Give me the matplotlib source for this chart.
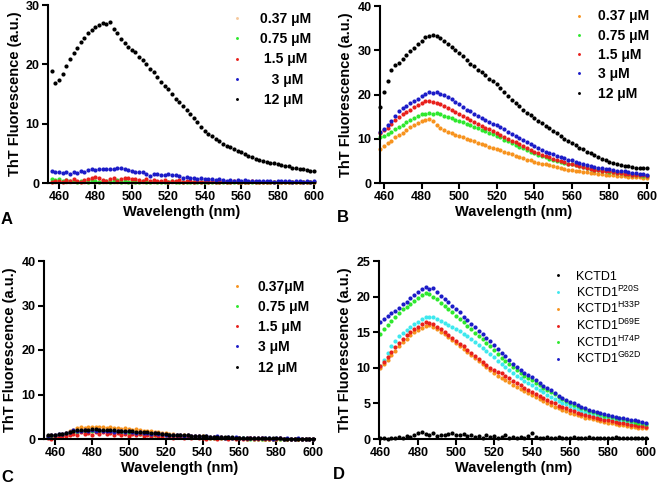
import numpy as np
import matplotlib
matplotlib.use("Agg")
import matplotlib.pyplot as plt

plt.rcParams['font.family'] = ['Liberation Sans', 'DejaVu Sans']
plt.rcParams['font.weight'] = 'bold'
plt.rcParams['axes.labelweight'] = 'bold'
plt.rcParams['mathtext.default'] = 'regular'

# ---------------- data (2 nm steps) ----------------
wl_a = np.arange(456, 601, 2)   # panels A and C
wl_b = np.arange(458, 601, 2)   # panel B
wl_d = np.arange(460, 601, 2)   # panel D

conc_labels = ["0.37 \u03bcM", "0.75 \u03bcM", "1.5 \u03bcM", "3 \u03bcM", "12 \u03bcM"]
conc_labels_a = ["0.37 \u03bcM", "0.75 \u03bcM", " 1.5 \u03bcM", "   3 \u03bcM", " 12 \u03bcM"]
conc_labels_c = ["0.37\u03bcM", "0.75 \u03bcM", "1.5 \u03bcM", "3 \u03bcM", "12 \u03bcM"]

# panel A
a_037 = [0.2, 0.1, 0.3, 0.2, 0.1, 0.2, 0.3, 0.1, 0.2, 0.2,
         0.1, 0.3, 0.2, 0.1, 0.2, 0.1, 0.2, 0.1, 0.2, 0.1,
         0.2, 0.1, 0.1, 0.2, 0.1, 0.2, 0.1, 0.1, 0.2, 0.1,
         0.1, 0.2, 0.1, 0.1, 0.1, 0.2, 0.1, 0.1, 0.1, 0.1,
         0.2, 0.1, 0.1, 0.1, 0.1, 0.1, 0.2, 0.1, 0.1, 0.1,
         0.1, 0.1, 0.1, 0.1, 0.2, 0.1, 0.1, 0.1, 0.1, 0.1,
         0.1, 0.1, 0.1, 0.1, 0.1, 0.1, 0.1, 0.1, 0.1, 0.1,
         0.1, 0.1, 0.1]
a_075 = [0.6, 0.5, 0.7, 0.4, 0.5, 0.3, 0.4, 0.2, 0.3, 0.4,
         0.2, 0.5, 0.3, 0.2, 0.4, 0.3, 0.1, 0.3, 0.5, 0.2,
         0.3, 0.2, 0.4, 0.1, 0.2, 0.3, 0.1, 0.2, 0.3, 0.1,
         0.2, 0.1, 0.2, 0.3, 0.1, 0.2, 0.1, 0.2, 0.1, 0.2,
         0.1, 0.2, 0.1, 0.1, 0.2, 0.1, 0.1, 0.2, 0.1, 0.1,
         0.2, 0.1, 0.1, 0.2, 0.1, 0.1, 0.1, 0.2, 0.1, 0.1,
         0.1, 0.2, 0.1, 0.1, 0.1, 0.2, 0.1, 0.1, 0.1, 0.2,
         0.1, 0.1, 0.1]
a_15 = [0.2, 0.4, 0.3, 0.1, 0.5, 0.3, 0.6, 0.4, 0.2, 0.5,
        0.7, 0.9, 1.0, 0.8, 0.5, 0.3, 0.6, 0.8, 0.4, 0.7,
        0.9, 0.8, 0.6, 0.7, 0.5, 0.4, 0.6, 0.3, 0.5, 0.4,
        0.3, 0.5, 0.2, 0.4, 0.3, 0.5, 0.2, 0.3, 0.4, 0.2,
        0.3, 0.1, 0.3, 0.2, 0.4, 0.1, 0.2, 0.3, 0.1, 0.2,
        0.3, 0.1, 0.2, 0.2, 0.1, 0.3, 0.1, 0.2, 0.1, 0.2,
        0.1, 0.2, 0.1, 0.1, 0.2, 0.1, 0.1, 0.2, 0.1, 0.1,
        0.1, 0.2, 0.1]
a_3 = [2.1, 1.9, 1.8, 1.7, 1.9, 1.6, 1.8, 1.7, 2.0, 1.9,
       2.2, 2.3, 2.2, 2.3, 2.4, 2.3, 2.4, 2.4, 2.6, 2.5,
       2.3, 2.2, 2.0, 1.9, 1.8, 1.9, 1.6, 1.1, 1.6, 1.5,
       1.4, 1.3, 1.5, 1.4, 1.3, 1.2, 0.9, 1.0, 0.8, 0.9,
       0.7, 0.8, 0.7, 0.6, 0.6, 0.5, 0.6, 0.5, 0.4, 0.5,
       0.4, 0.5, 0.3, 0.5, 0.4, 0.3, 0.4, 0.4, 0.3, 0.4,
       0.3, 0.2, 0.3, 0.4, 0.3, 0.3, 0.2, 0.3, 0.3, 0.2,
       0.3, 0.2, 0.3]
a_12 = [18.8, 16.8, 17.3, 18.4, 19.8, 20.9, 21.9, 22.8, 23.8, 24.5,
        25.2, 25.8, 26.3, 26.6, 26.9, 26.8, 27.2, 26.0, 25.2, 24.3,
        23.6, 23.0, 22.5, 22.1, 21.3, 20.7, 20.0, 19.2, 18.7, 17.9,
        17.0, 16.3, 15.8, 15.0, 14.2, 13.6, 12.9, 12.3, 11.6, 10.9,
        10.2, 9.5, 8.8, 8.3, 7.9, 7.4, 7.0, 6.6, 6.3, 6.0,
        5.7, 5.4, 5.2, 4.9, 4.6, 4.4, 4.1, 3.9, 3.7, 3.6,
        3.4, 3.3, 3.2, 3.0, 2.9, 2.8, 2.6, 2.5, 2.4, 2.3,
        2.2, 2.1, 2.0]

# panel B
b_037 = [7.6, 8.3, 9.0, 9.6, 10.3, 10.9, 11.4, 12.0, 12.6, 13.1,
         13.6, 13.9, 14.2, 14.4, 14.1, 13.0, 12.4, 12.0, 11.6, 11.2,
         10.9, 10.6, 10.3, 10.0, 9.7, 9.4, 9.1, 8.8, 8.5, 8.2,
         7.9, 7.7, 7.4, 7.1, 6.8, 6.5, 6.2, 5.9, 5.6, 5.3,
         5.1, 4.8, 4.6, 4.4, 4.2, 4.0, 3.8, 3.6, 3.4, 3.2,
         3.0, 2.9, 2.8, 2.6, 2.5, 2.4, 2.3, 2.2, 2.1, 2.0,
         1.9, 1.8, 1.7, 1.6, 1.5, 1.5, 1.4, 1.4, 1.3, 1.3,
         1.2, 1.2]
b_075 = [10.3, 10.6, 11.0, 11.5, 12.2, 12.7, 13.2, 13.8, 14.3, 14.7,
         15.1, 15.5, 15.7, 15.9, 15.6, 15.9, 15.5, 15.2, 14.9, 14.6,
         14.3, 14.1, 13.8, 13.4, 13.1, 12.7, 12.4, 12.0, 11.7, 11.3,
         11.0, 10.7, 10.3, 9.8, 9.4, 9.0, 8.6, 8.2, 7.8, 7.4,
         7.0, 6.7, 6.4, 6.1, 5.8, 5.5, 5.3, 5.0, 4.8, 4.6,
         4.4, 4.2, 4.0, 3.8, 3.6, 3.4, 3.2, 3.0, 2.9, 2.7,
         2.6, 2.5, 2.4, 2.3, 2.2, 2.1, 2.0, 1.9, 1.8, 1.7,
         1.6, 1.5]
b_15 = [11.4, 11.9, 12.5, 13.3, 14.2, 14.9, 15.5, 16.0, 16.6, 17.1,
        17.6, 18.1, 18.6, 18.5, 18.2, 18.1, 17.8, 17.3, 17.0, 16.5,
        16.1, 15.7, 15.2, 14.7, 14.3, 13.8, 13.4, 12.9, 12.5, 12.1,
        11.7, 11.3, 10.9, 10.5, 10.0, 9.6, 9.2, 8.8, 8.3, 7.9,
        7.5, 7.1, 6.8, 6.4, 6.1, 5.8, 5.5, 5.2, 4.9, 4.7,
        4.4, 4.2, 4.0, 3.8, 3.6, 3.4, 3.2, 3.0, 2.9, 2.8,
        2.7, 2.6, 2.4, 2.3, 2.2, 2.1, 2.0, 1.9, 1.8, 1.7,
        1.7, 1.6]
b_3 = [11.6, 12.2, 13.0, 14.1, 15.2, 16.2, 16.9, 17.5, 18.0, 18.5,
       19.0, 19.6, 20.1, 20.5, 20.4, 20.5, 20.2, 19.8, 19.4, 18.9,
       18.3, 17.8, 17.2, 16.6, 16.2, 15.6, 15.1, 14.7, 14.2, 13.8,
       13.3, 13.0, 12.6, 12.1, 11.6, 11.1, 10.7, 10.2, 9.7, 9.2,
       8.8, 8.4, 8.0, 7.5, 7.1, 6.8, 6.5, 6.2, 5.9, 5.6,
       5.3, 5.1, 4.8, 4.5, 4.3, 4.1, 3.9, 3.7, 3.5, 3.4,
       3.2, 3.1, 2.9, 2.8, 2.7, 2.6, 2.5, 2.3, 2.2, 2.1,
       2.0, 1.9]
b_12 = [17.2, 20.5, 23.0, 25.6, 26.6, 27.1, 28.0, 29.0, 29.8, 30.6,
        31.4, 32.2, 32.9, 33.3, 33.4, 33.2, 32.8, 32.2, 31.4, 30.7,
        30.0, 29.4, 28.7, 27.7, 27.0, 26.4, 25.6, 25.0, 24.4, 23.6,
        23.0, 22.3, 21.5, 20.6, 19.6, 18.8, 18.0, 17.3, 16.6, 15.9,
        15.3, 14.7, 14.1, 13.5, 12.9, 12.4, 11.8, 11.2, 10.6, 10.0,
        9.5, 9.0, 8.5, 8.0, 7.6, 7.1, 6.7, 6.3, 5.9, 5.5,
        5.1, 4.8, 4.6, 4.3, 4.1, 3.9, 3.8, 3.6, 3.5, 3.4,
        3.3, 3.3]

# panel C
c_037 = [0.7, 0.8, 0.9, 1.0, 1.2, 1.4, 1.7, 2.0, 2.4, 2.6,
         2.5, 2.7, 2.6, 2.8, 2.6, 2.7, 2.5, 2.6, 2.4, 2.5,
         2.3, 2.4, 2.2, 2.1, 2.2, 2.0, 1.9, 1.8, 1.7, 1.6,
         1.5, 1.4, 1.3, 1.2, 1.1, 1.0, 0.9, 0.9, 0.8, 0.7,
         0.7, 0.6, 0.6, 0.5, 0.5, 0.4, 0.4, 0.4, 0.3, 0.3,
         0.3, 0.3, 0.2, 0.2, 0.2, 0.2, 0.2, 0.2, 0.1, 0.1,
         0.1, 0.1, 0.1, 0.1, 0.1, 0.1, 0.1, 0.1, 0.1, 0.1,
         0.1, 0.1, 0.1]
c_075 = [0.5, 0.6, 0.7, 0.8, 1.0, 1.1, 1.3, 1.5, 1.6, 1.7,
         1.7, 1.8, 1.8, 1.8, 1.7, 1.8, 1.7, 1.7, 1.6, 1.6,
         1.5, 1.5, 1.4, 1.4, 1.3, 1.2, 1.2, 1.1, 1.0, 1.0,
         0.9, 0.9, 0.8, 0.8, 0.7, 0.7, 0.6, 0.6, 0.5, 0.5,
         0.5, 0.4, 0.4, 0.4, 0.3, 0.3, 0.3, 0.3, 0.2, 0.2,
         0.2, 0.2, 0.2, 0.2, 0.1, 0.1, 0.1, 0.1, 0.1, 0.1,
         0.1, 0.1, 0.1, 0.1, 0.1, 0.1, 0.1, 0.1, 0.1, 0.1,
         0.1, 0.1, 0.1]
c_15 = [0.3, 0.1, 0.5, 0.4, 0.7, 0.6, 0.9, 1.2, 1.0, 1.5,
        1.1, 1.4, 1.0, 1.6, 1.2, 1.5, 1.1, 1.3, 0.9, 1.4,
        1.0, 1.2, 0.7, 1.1, 0.8, 1.2, 0.6, 1.0, 0.5, 0.9,
        0.7, 0.4, 0.8, 0.5, 0.3, 0.6, 0.4, 0.2, 0.5, 0.3,
        0.4, 0.2, 0.3, 0.1, 0.3, 0.2, 0.1, 0.2, 0.3, 0.1,
        0.2, 0.1, 0.2, 0.1, 0.1, 0.2, 0.1, 0.1, 0.2, 0.1,
        0.1, 0.1, 0.1, 0.2, 0.1, 0.1, 0.1, 0.1, 0.1, 0.1,
        0.1, 0.1, 0.1]
c_3 = [0.7, 0.9, 0.8, 1.1, 1.2, 1.3, 1.6, 2.0, 1.9, 1.8,
       2.0, 1.7, 2.1, 1.8, 2.0, 1.7, 1.9, 1.8, 1.6, 1.9,
       1.7, 1.5, 1.8, 1.6, 1.4, 1.5, 1.3, 1.4, 1.2, 1.3,
       1.1, 1.2, 1.0, 0.9, 1.0, 0.8, 0.8, 0.7, 0.8, 0.6,
       0.6, 0.7, 0.5, 0.6, 0.4, 0.5, 0.6, 0.4, 0.3, 0.4,
       0.3, 0.4, 0.3, 0.2, 0.3, 0.3, 0.2, 0.2, 0.3, 0.2,
       0.2, 0.1, 0.2, 0.2, 0.1, 0.2, 0.1, 0.1, 0.2, 0.1,
       0.1, 0.1, 0.1]
c_12 = [0.8, 0.9, 1.0, 1.1, 1.2, 1.4, 1.6, 1.8, 2.0, 2.0,
        2.1, 2.1, 2.2, 2.2, 2.1, 2.1, 2.1, 2.0, 2.0, 1.9,
        1.9, 1.8, 1.8, 1.7, 1.6, 1.6, 1.5, 1.5, 1.4, 1.3,
        1.3, 1.2, 1.1, 1.0, 1.0, 0.9, 0.9, 0.8, 0.8, 0.7,
        0.7, 0.7, 0.6, 0.6, 0.5, 0.5, 0.5, 0.4, 0.4, 0.4,
        0.4, 0.3, 0.3, 0.3, 0.3, 0.3, 0.2, 0.2, 0.2, 0.2,
        0.2, 0.2, 0.2, 0.2, 0.1, 0.1, 0.1, 0.1, 0.1, 0.1,
        0.1, 0.1, 0.1]

# panel D
mut_labels = ["KCTD1", "KCTD1$^{P20S}$", "KCTD1$^{H33P}$",
              "KCTD1$^{D69E}$", "KCTD1$^{H74P}$", "KCTD1$^{G62D}$"]
d_wt = [0.1, 0.2, 0.0, 0.2, 0.1, 0.3, 0.2, 0.4, 0.3, 0.6,
        0.9, 1.0, 0.7, 0.5, 0.8, 0.4, 0.6, 0.5, 0.7, 0.9,
        0.6, 0.5, 0.7, 0.4, 0.5, 0.3, 0.4, 0.2, 0.5, 0.3,
        0.4, 0.2, 0.3, 0.5, 0.2, 0.3, 0.1, 0.3, 0.2, 0.4,
        0.9, 0.3, 0.2, 0.1, 0.3, 0.2, 0.1, 0.3, 0.2, 0.1,
        0.2, 0.3, 0.1, 0.2, 0.1, 0.3, 0.2, 0.1, 0.2, 0.1,
        0.2, 0.1, 0.3, 0.1, 0.2, 0.1, 0.2, 0.1, 0.1, 0.2,
        0.1]
d_p20s = [10.2, 11.1, 12.1, 13.0, 13.8, 14.5, 14.9, 15.3, 15.7, 16.1,
          16.5, 16.8, 17.1, 17.2, 17.1, 16.9, 16.6, 16.3, 16.0, 15.7,
          15.4, 15.1, 14.8, 14.4, 14.0, 13.6, 13.2, 12.8, 12.4, 12.0,
          11.5, 11.0, 10.6, 10.1, 9.7, 9.3, 8.9, 8.6, 8.2, 7.9,
          7.6, 7.2, 6.9, 6.6, 6.2, 5.9, 5.6, 5.4, 5.1, 4.9,
          4.6, 4.4, 4.2, 4.0, 3.8, 3.6, 3.5, 3.3, 3.2, 3.0,
          2.9, 2.8, 2.7, 2.6, 2.5, 2.4, 2.3, 2.2, 2.1, 2.0,
          2.0]
d_h33p = [10.0, 10.5, 11.1, 11.8, 12.4, 13.0, 13.6, 14.1, 14.6, 15.0,
          15.3, 15.6, 15.9, 16.0, 15.7, 15.4, 15.0, 14.7, 14.3, 13.9,
          13.5, 13.1, 12.7, 12.2, 11.8, 11.4, 10.9, 10.5, 10.1, 9.7,
          9.3, 8.9, 8.6, 8.3, 8.0, 7.6, 7.3, 7.0, 6.7, 6.4,
          6.2, 5.9, 5.6, 5.3, 5.0, 4.8, 4.5, 4.3, 4.1, 3.9,
          3.7, 3.5, 3.4, 3.2, 3.0, 2.9, 2.8, 2.6, 2.5, 2.4,
          2.3, 2.2, 2.1, 2.0, 1.9, 1.8, 1.7, 1.7, 1.6, 1.5,
          1.5]
d_d69e = [10.2, 10.8, 11.5, 12.2, 12.9, 13.5, 14.0, 14.6, 15.0, 15.5,
          15.8, 16.1, 16.5, 16.3, 16.1, 15.8, 15.4, 15.0, 14.6, 14.2,
          13.8, 13.4, 13.0, 12.5, 12.1, 11.6, 11.2, 10.8, 10.4, 10.0,
          9.7, 9.4, 9.2, 8.9, 8.5, 8.2, 7.9, 7.6, 7.2, 6.9,
          6.6, 6.3, 6.0, 5.7, 5.5, 5.2, 5.0, 4.7, 4.5, 4.3,
          4.1, 3.9, 3.7, 3.5, 3.4, 3.2, 3.1, 2.9, 2.8, 2.7,
          2.6, 2.5, 2.4, 2.3, 2.2, 2.1, 2.0, 1.9, 1.8, 1.8,
          1.7]
d_h74p = [14.8, 15.4, 16.0, 16.6, 17.2, 17.7, 18.2, 18.6, 19.0, 19.4,
          19.8, 20.2, 20.5, 20.3, 20.0, 19.6, 19.1, 18.7, 18.2, 17.8,
          17.3, 16.9, 16.4, 15.9, 15.4, 14.9, 14.5, 14.0, 13.5, 13.0,
          12.5, 11.9, 11.4, 11.0, 10.5, 10.1, 9.7, 9.3, 8.9, 8.6,
          8.3, 7.9, 7.6, 7.2, 6.9, 6.6, 6.3, 5.9, 5.6, 5.3,
          5.1, 4.8, 4.6, 4.4, 4.2, 4.0, 3.8, 3.7, 3.5, 3.3,
          3.2, 3.1, 3.0, 2.9, 2.8, 2.7, 2.5, 2.4, 2.3, 2.2,
          2.1]
d_g62d = [16.4, 16.9, 17.3, 17.7, 18.0, 18.4, 18.9, 19.3, 19.8, 20.2,
          20.6, 21.1, 21.3, 21.0, 21.2, 20.7, 20.1, 19.6, 19.2, 18.7,
          18.3, 17.8, 17.2, 16.7, 16.2, 15.7, 15.2, 14.7, 14.2, 13.8,
          13.2, 12.6, 12.1, 11.6, 11.1, 10.6, 10.1, 9.7, 9.3, 9.0,
          8.7, 8.3, 7.9, 7.5, 7.2, 6.9, 6.5, 6.1, 5.8, 5.5,
          5.2, 5.0, 4.8, 4.5, 4.3, 4.1, 4.0, 3.8, 3.6, 3.5,
          3.4, 3.3, 3.1, 3.0, 2.9, 2.8, 2.7, 2.6, 2.5, 2.4,
          2.3]

ORANGE = '#f7931e'
PEACH = '#f5c89c'
GREEN = '#2ee82e'
RED = '#e8201c'
BLUE = '#1c1cc8'
CYAN = '#3ee8ee'
BLACK = '#000000'


def style_axes(ax, xlim, ylim, yticks):
    ax.set_xlim(*xlim)
    ax.set_ylim(*ylim)
    ax.set_xticks(np.arange(460, 601, 20))
    ax.set_yticks(yticks)
    for s in ['top', 'right']:
        ax.spines[s].set_visible(False)
    for s in ['left', 'bottom']:
        ax.spines[s].set_linewidth(1.5)
    ax.tick_params(width=1.5, length=4, labelsize=9, pad=2)
    for lab in ax.get_xticklabels() + ax.get_yticklabels():
        lab.set_fontweight('bold')
    ax.set_xlabel('Wavelength (nm)', fontsize=10.5, labelpad=1)
    ax.set_ylabel('ThT Fluorescence (a.u.)', fontsize=10.5, labelpad=3)


def draw_series(ax, x, series, colors, labels):
    handles = []
    for y, c, lab in zip(series, colors, labels):
        h, = ax.plot(x, y, 'o', ms=3.0, mew=0, color=c, label=lab, clip_on=False)
        handles.append(h)
    return handles


fig = plt.figure(figsize=(6.58, 4.87), dpi=100)
W, H = 658.0, 487.0

def px_axes(l, t, r, b):
    return fig.add_axes([l / W, 1 - b / H, (r - l) / W, (b - t) / H])

axA = px_axes(48, 5, 315, 183)
axB = px_axes(380, 6, 648, 183)
axC = px_axes(44, 261, 315, 439)
axD = px_axes(379, 261, 648, 439)

# A
hA = draw_series(axA, wl_a, [a_037, a_075, a_15, a_3, a_12],
                 [PEACH, GREEN, RED, BLUE, BLACK], conc_labels_a)
style_axes(axA, (454, 600.5), (0, 30), [0, 10, 20, 30])
axA.legend(handles=hA, loc='upper left', bbox_to_anchor=(0.655, 1.0), frameon=False,
           handlelength=1.0, handletextpad=1.2, labelspacing=0.45,
           borderpad=0, markerscale=0.7, prop={'weight': 'bold', 'size': 10})

# B
hB = draw_series(axB, wl_b, [b_037, b_075, b_15, b_3, b_12],
                 [ORANGE, GREEN, RED, BLUE, BLACK], conc_labels)
style_axes(axB, (457.9, 600.5), (0, 40), [0, 10, 20, 30, 40])
axB.legend(handles=hB, loc='upper left', bbox_to_anchor=(0.69, 1.02), frameon=False,
           handlelength=1.0, handletextpad=0.9, labelspacing=0.38,
           borderpad=0, markerscale=0.7, prop={'weight': 'bold', 'size': 10})

# C
hC = draw_series(axC, wl_a, [c_037, c_075, c_15, c_3, c_12],
                 [ORANGE, GREEN, RED, BLUE, BLACK], conc_labels_c)
style_axes(axC, (454, 601), (0, 40), [0, 10, 20, 30, 40])
axC.legend(handles=hC, loc='upper left', bbox_to_anchor=(0.66, 0.935), frameon=False,
           handlelength=1.0, handletextpad=1.0, labelspacing=0.45,
           borderpad=0, markerscale=0.7, prop={'weight': 'bold', 'size': 10})

# D
hD = draw_series(axD, wl_d, [d_wt, d_p20s, d_h33p, d_d69e, d_h74p, d_g62d],
                 [BLACK, CYAN, ORANGE, RED, GREEN, BLUE], mut_labels)
style_axes(axD, (459.5, 601), (0, 25), [0, 5, 10, 15, 20, 25])
axD.legend(handles=hD, loc='upper left', bbox_to_anchor=(0.62, 0.98), frameon=False,
           handlelength=1.0, handletextpad=0.9, labelspacing=0.12,
           borderpad=0, markerscale=0.7, prop={'weight': 'normal', 'size': 9})

for lab, xp, yp in [('A', 1, 227), ('B', 337, 225), ('C', 1, 485), ('D', 333, 482)]:
    fig.text(xp / W, 1 - yp / H, lab, fontsize=12, fontweight='bold', va='bottom', ha='left')

fig.savefig('out.png', dpi=100)
